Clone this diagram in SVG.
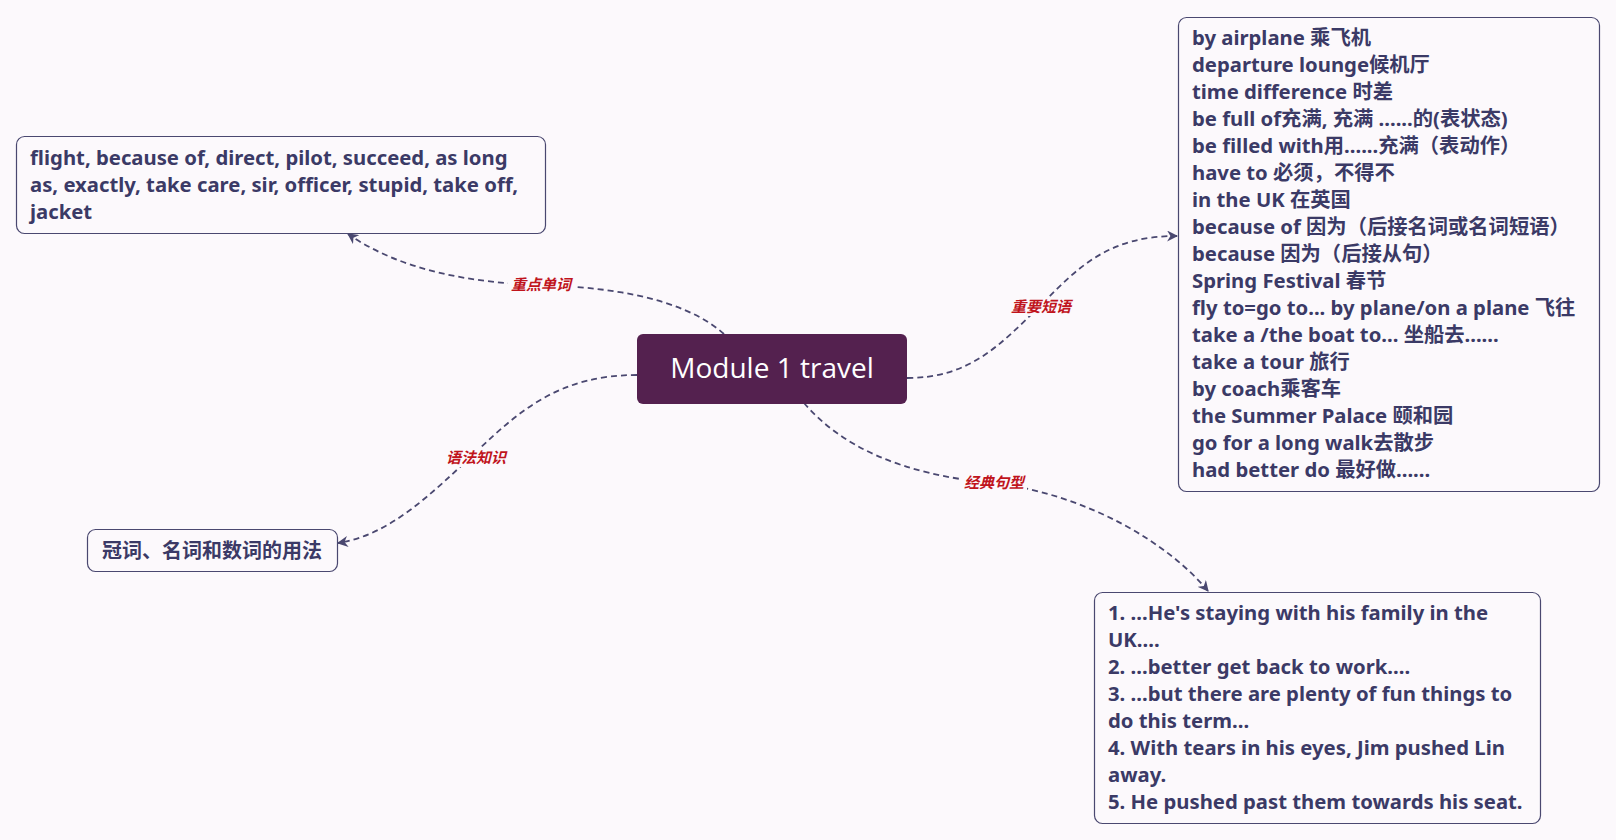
<svg xmlns="http://www.w3.org/2000/svg" width="1616" height="840" viewBox="0 0 1616 840">
<defs>
<style>
.bg{fill:#fcf9fc}
.box{fill:#fcf9fc;stroke:#4a4870;stroke-width:1.2}
.t{font-family:"Noto Sans","Noto Sans CJK SC",sans-serif;font-weight:bold;font-size:20.3px;fill:#3b3a66}
.conn{fill:none;stroke:#4a4870;stroke-width:1.8;stroke-dasharray:6 4}
.lbl{font-family:"Noto Sans CJK SC",sans-serif;font-style:italic;font-weight:bold;font-size:15px;fill:#c0141c}
.center{fill:#54214f}
.ct{font-family:"Open Sans","Noto Sans",sans-serif;font-size:28px;fill:#ffffff}
</style>
<marker id="arr" viewBox="0 0 10 10" refX="9" refY="5" markerWidth="11" markerHeight="11" markerUnits="userSpaceOnUse" orient="auto">
<path d="M0,0 L10,5 L0,10 L3,5 Z" fill="#4a4870"/>
</marker>
</defs>
<rect class="bg" x="0" y="0" width="1616" height="840"/>
<g id="connectors">
<path class="conn" d="M724,334 C680,295 600,287 541,285 C470,283 400,270 348,234" marker-end="url(#arr)"/>
<path class="conn" d="M907,378 C970,378 1000,345 1041,305 C1080,265 1110,236 1177,236" marker-end="url(#arr)"/>
<path class="conn" d="M637,375 C560,375 520,410 476,452 C430,495 390,535 338,543" marker-end="url(#arr)"/>
<path class="conn" d="M804,403 C840,445 900,475 994,483 C1090,495 1170,545 1208,591" marker-end="url(#arr)"/>
<rect class="bg" x="508" y="274" width="66" height="19"/>
<text class="lbl" x="541" y="290" text-anchor="middle">重点单词</text>
<rect class="bg" x="1008" y="297" width="66" height="19"/>
<text class="lbl" x="1041" y="312" text-anchor="middle">重要短语</text>
<rect class="bg" x="443" y="448" width="66" height="19"/>
<text class="lbl" x="476" y="463" text-anchor="middle">语法知识</text>
<rect class="bg" x="961" y="473" width="66" height="19"/>
<text class="lbl" x="994" y="488" text-anchor="middle">经典句型</text>
</g>
<g id="center">
<rect class="center" x="637" y="334" width="270" height="70" rx="6"/>
<text class="ct" x="772" y="378" text-anchor="middle">Module 1 travel</text>
</g>
<g id="words">
<rect class="box" x="16.5" y="136.5" width="529" height="97" rx="8"/>
<text class="t" x="30" y="165">flight, because of, direct, pilot, succeed, as long</text>
<text class="t" x="30" y="192">as, exactly, take care, sir, officer, stupid, take off,</text>
<text class="t" x="30" y="219">jacket</text>
</g>
<g id="phrases">
<rect class="box" x="1178.5" y="17.5" width="421" height="474" rx="8"/>
<text class="t" x="1192" y="45">by airplane 乘飞机</text>
<text class="t" x="1192" y="72">departure lounge候机厅</text>
<text class="t" x="1192" y="99">time difference 时差</text>
<text class="t" x="1192" y="126">be full of充满, 充满 ......的(表状态)</text>
<text class="t" x="1192" y="153">be filled with用......充满（表动作）</text>
<text class="t" x="1192" y="180">have to 必须，不得不</text>
<text class="t" x="1192" y="207">in the UK 在英国</text>
<text class="t" x="1192" y="234">because of 因为（后接名词或名词短语）</text>
<text class="t" x="1192" y="261">because 因为（后接从句）</text>
<text class="t" x="1192" y="288">Spring Festival 春节</text>
<text class="t" x="1192" y="315">fly to=go to... by plane/on a plane 飞往</text>
<text class="t" x="1192" y="342">take a /the boat to... 坐船去......</text>
<text class="t" x="1192" y="369">take a tour 旅行</text>
<text class="t" x="1192" y="396">by coach乘客车</text>
<text class="t" x="1192" y="423">the Summer Palace 颐和园</text>
<text class="t" x="1192" y="450">go for a long walk去散步</text>
<text class="t" x="1192" y="477">had better do 最好做......</text>
</g>
<g id="grammar">
<rect class="box" x="87.5" y="529.5" width="250" height="42" rx="8"/>
<text class="t" x="102" y="558" style="font-size:20px">冠词、名词和数词的用法</text>
</g>
<g id="sentences">
<rect class="box" x="1094.5" y="592.5" width="446" height="231" rx="8"/>
<text class="t" x="1108" y="620">1. ...He's staying with his family in the</text>
<text class="t" x="1108" y="647">UK....</text>
<text class="t" x="1108" y="674">2. ...better get back to work....</text>
<text class="t" x="1108" y="701">3. ...but there are plenty of fun things to</text>
<text class="t" x="1108" y="728">do this term...</text>
<text class="t" x="1108" y="755">4. With tears in his eyes, Jim pushed Lin</text>
<text class="t" x="1108" y="782">away.</text>
<text class="t" x="1108" y="809">5. He pushed past them towards his seat.</text>
</g>
</svg>
